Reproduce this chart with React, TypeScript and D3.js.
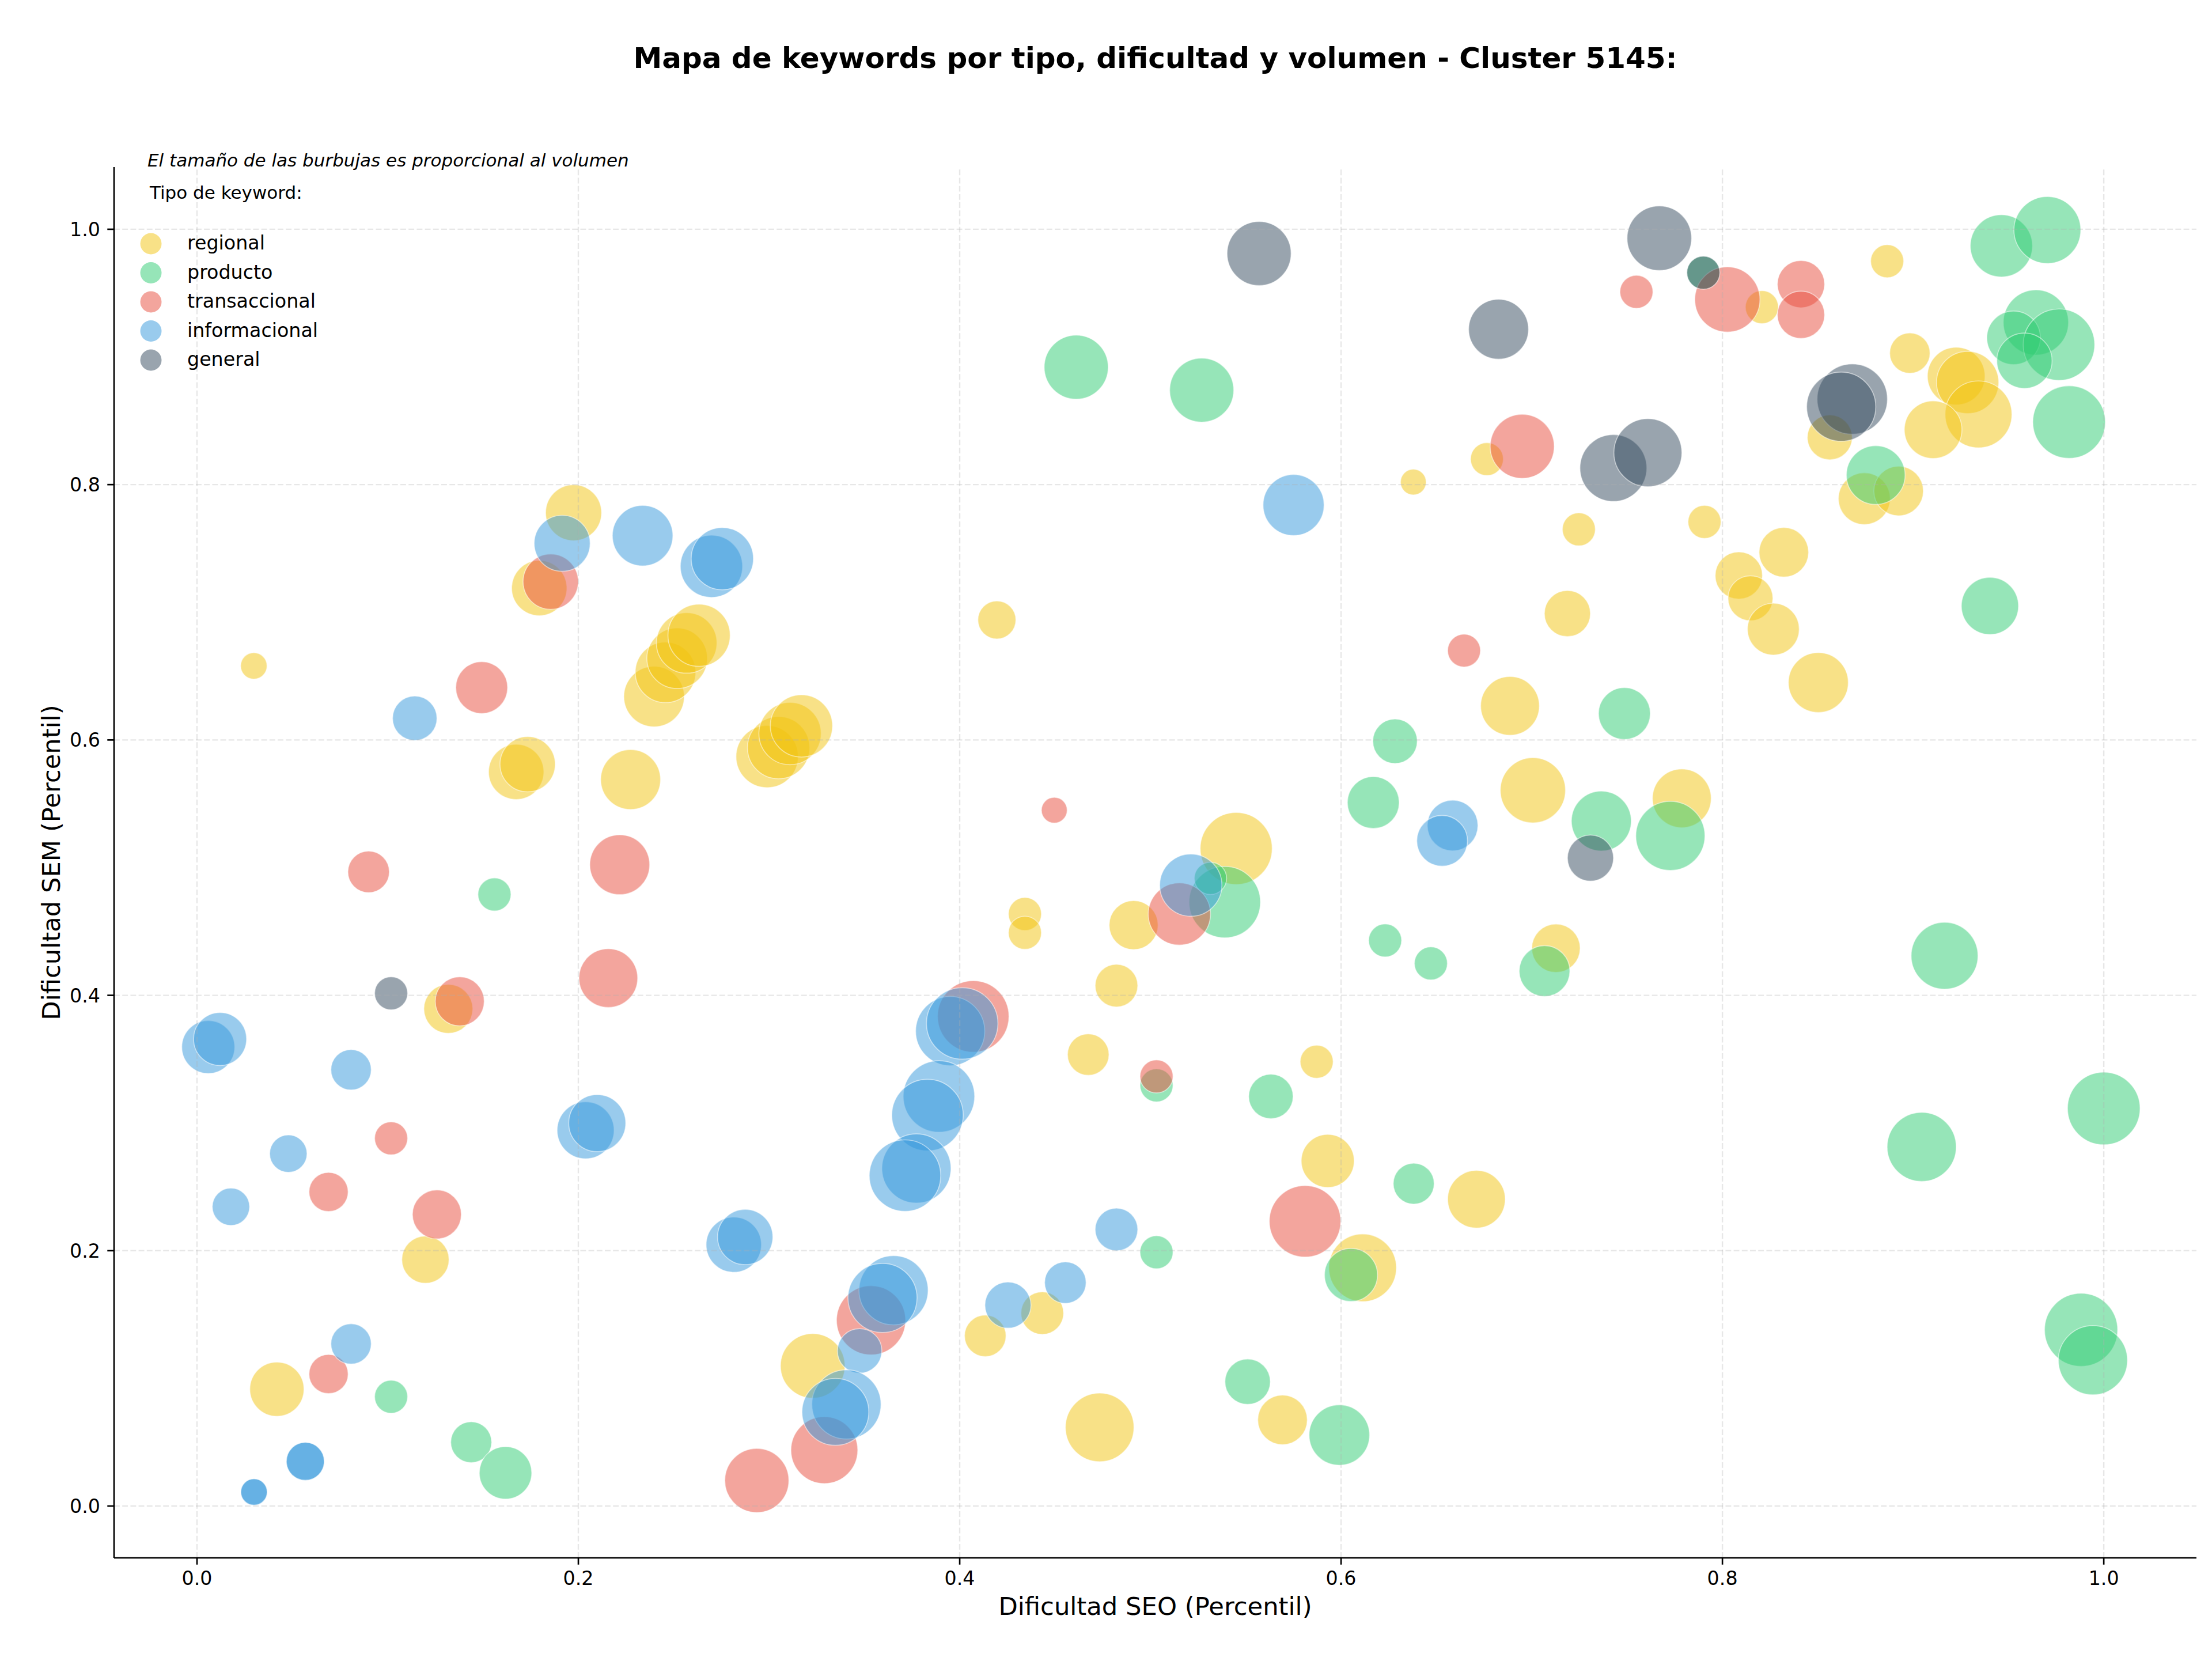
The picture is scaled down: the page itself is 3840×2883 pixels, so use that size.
import * as d3 from "d3";

const width = 3840;
const height = 2883;
const margin = { top: 290, right: 27, bottom: 179, left: 198 };
const fontFamily = "'DejaVu Sans', sans-serif";

const categories = ["regional", "producto", "transaccional", "informacional", "general"];
const categoryColors = ["#F1C40F", "#2ECC71", "#E74C3C", "#3498DB", "#34495E"];

// [dificultad SEO, dificultad SEM, volumen]
const regional: [number, number, number][] = [
  [0.1975, 0.778, 595], [0.1795, 0.719, 580], [0.2397, 0.634, 695], [0.2457, 0.653, 695],
  [0.2518, 0.664, 695], [0.2568, 0.676, 695], [0.2633, 0.682, 735], [0.0298, 0.658, 133],
  [0.1674, 0.575, 580], [0.1734, 0.581, 580], [0.2274, 0.569, 681], [0.299, 0.587, 735],
  [0.305, 0.594, 735], [0.311, 0.605, 735], [0.317, 0.611, 735], [0.4195, 0.694, 274],
  [0.6379, 0.802, 126], [0.6765, 0.82, 205], [0.545, 0.515, 984], [0.8207, 0.939, 207],
  [0.8864, 0.975, 207], [0.8983, 0.903, 309], [0.9226, 0.885, 630], [0.9286, 0.88, 735],
  [0.9343, 0.855, 848], [0.9105, 0.843, 630], [0.8563, 0.837, 383], [0.8744, 0.789, 510],
  [0.8924, 0.795, 466], [0.7247, 0.765, 207], [0.7906, 0.7708, 207], [0.8322, 0.747, 466],
  [0.8086, 0.7288, 424], [0.8147, 0.711, 383], [0.8267, 0.6868, 510], [0.8503, 0.645, 681],
  [0.7187, 0.699, 403], [0.6886, 0.6267, 655], [0.7006, 0.5606, 807], [0.7787, 0.5543, 655],
  [0.1318, 0.3894, 455], [0.1198, 0.193, 424], [0.0419, 0.0915, 557], [0.3229, 0.1098, 790],
  [0.4342, 0.4637, 207], [0.4342, 0.449, 207], [0.4912, 0.455, 455], [0.4822, 0.4076, 345],
  [0.4674, 0.3536, 327], [0.5872, 0.348, 207], [0.593, 0.2703, 533], [0.671, 0.2403, 630],
  [0.6113, 0.1866, 868], [0.4433, 0.1511, 345], [0.4134, 0.1333, 327], [0.4734, 0.0616, 892],
  [0.5693, 0.0675, 466], [0.7127, 0.4369, 445],
];

const producto: [number, number, number][] = [
  [0.4611, 0.892, 779], [0.5269, 0.874, 779], [0.6283, 0.599, 375], [0.6169, 0.551, 510],
  [0.79, 0.966, 207], [0.9463, 0.987, 735], [0.9704, 0.9994, 848], [0.9644, 0.927, 807],
  [0.9527, 0.915, 545], [0.9765, 0.9096, 969], [0.9584, 0.897, 580], [0.9818, 0.849, 1000],
  [0.8804, 0.8075, 655], [0.9403, 0.705, 620], [0.7486, 0.6207, 510], [0.7365, 0.5365, 681],
  [0.7727, 0.5249, 907], [0.156, 0.479, 207], [0.1018, 0.0856, 207], [0.1438, 0.05, 318],
  [0.1618, 0.026, 522], [0.539, 0.473, 969], [0.5315, 0.4916, 198], [0.5032, 0.3295, 207],
  [0.5632, 0.3208, 375], [0.6381, 0.2525, 318], [0.5032, 0.1988, 207], [0.6052, 0.181, 533],
  [0.551, 0.0974, 391], [0.5991, 0.0556, 695], [0.6231, 0.443, 207], [0.6471, 0.425, 207],
  [0.7067, 0.419, 488], [0.9165, 0.431, 848], [0.9045, 0.2813, 907], [1.0, 0.3114, 1000],
  [0.9881, 0.138, 1016], [0.9943, 0.1142, 907],
];

const transaccional: [number, number, number][] = [
  [0.1855, 0.724, 580], [0.1493, 0.641, 510], [0.6645, 0.67, 205], [0.4496, 0.545, 126],
  [0.7549, 0.951, 207], [0.8026, 0.945, 807], [0.8412, 0.957, 424], [0.8412, 0.933, 424],
  [0.695, 0.83, 779], [0.09, 0.4967, 327], [0.2217, 0.5023, 681], [0.2157, 0.4135, 655],
  [0.1378, 0.3953, 455], [0.1018, 0.288, 207], [0.069, 0.246, 291], [0.1258, 0.2284, 455],
  [0.069, 0.1034, 291], [0.2936, 0.02, 779], [0.4071, 0.3835, 969], [0.3535, 0.1455, 907],
  [0.329, 0.0438, 848], [0.5152, 0.4637, 735], [0.5032, 0.3365, 207], [0.5811, 0.223, 969],
];

const informacional: [number, number, number][] = [
  [0.1915, 0.754, 595], [0.2337, 0.76, 695], [0.2698, 0.736, 735], [0.2755, 0.742, 735],
  [0.1142, 0.617, 375], [0.5751, 0.784, 708], [0.6585, 0.533, 488], [0.653, 0.521, 488],
  [0.0059, 0.3595, 533], [0.0121, 0.3658, 533], [0.0808, 0.3417, 309], [0.0479, 0.276, 265],
  [0.0178, 0.2344, 265], [0.2038, 0.2943, 617], [0.2099, 0.2999, 617], [0.2815, 0.2047, 580],
  [0.2875, 0.2107, 580], [0.0808, 0.127, 309], [0.0568, 0.035, 274], [0.0568, 0.035, 274],
  [0.0299, 0.011, 133], [0.0299, 0.011, 133], [0.395, 0.372, 907], [0.4013, 0.378, 969],
  [0.3891, 0.3208, 969], [0.3831, 0.3062, 969], [0.3773, 0.2644, 907], [0.3713, 0.2588, 969],
  [0.3653, 0.169, 907], [0.3595, 0.163, 907], [0.3475, 0.1215, 375], [0.3406, 0.0796, 907],
  [0.3348, 0.0737, 848], [0.5212, 0.4863, 735], [0.4822, 0.2166, 345], [0.4554, 0.175, 327],
  [0.4253, 0.1574, 403],
];

const general: [number, number, number][] = [
  [0.557, 0.981, 779], [0.7669, 0.993, 790], [0.79, 0.966, 207], [0.6826, 0.9217, 681],
  [0.7428, 0.813, 848], [0.7609, 0.825, 877], [0.8681, 0.867, 938], [0.8623, 0.861, 907],
  [0.7308, 0.5075, 403], [0.1018, 0.4016, 207],
];

const seriesByCategory = [regional, producto, transaccional, informacional, general];
const tickValues = [0, 0.2, 0.4, 0.6, 0.8, 1.0];

const title = "Mapa de keywords por tipo, dificultad y volumen - Cluster 5145:";
const sizeNote = "El tamaño de las burbujas es proporcional al volumen";
const legendTitle = "Tipo de keyword:";

export default function App() {
  const x = d3.scaleLinear().domain([-0.0435, 1.0486]).range([margin.left, width - margin.right]);
  const y = d3.scaleLinear().domain([-0.0406, 1.0487]).range([height - margin.bottom, margin.top]);
  const r = d3.scaleSqrt().domain([0, 1000]).range([0, 63]);

  const x0 = margin.left;
  const x1 = width - margin.right;
  const y0 = height - margin.bottom;
  const y1 = margin.top;
  const axisMid = (x0 + x1) / 2;

  return (
    <svg
      width={width}
      height={height}
      style={{ position: "absolute", left: 0, top: 0, background: "#fff" }}
      fontFamily={fontFamily}
    >
      <rect width={width} height={height} fill="#fff" />

      <text x={axisMid} y={118} textAnchor="middle" fontSize={50} fontWeight="bold">
        {title}
      </text>

      {/* bubbles, one layer per keyword type */}
      {seriesByCategory.map((points, ci) => (
        <g key={categories[ci]}>
          {points.map((d, i) => (
            <circle
              key={i}
              cx={x(d[0])}
              cy={y(d[1])}
              r={r(d[2])}
              fill={categoryColors[ci]}
              fillOpacity={0.5}
              stroke="#fff"
              strokeOpacity={0.5}
              strokeWidth={1.7}
            />
          ))}
        </g>
      ))}

      {/* grid */}
      <g stroke="#b0b0b0" strokeOpacity={0.3} strokeWidth={2.4} strokeDasharray="9.9 4.3">
        {tickValues.map((t) => (
          <line key={`gx-${t}`} x1={x(t)} x2={x(t)} y1={y0} y2={y1} />
        ))}
        {tickValues.map((t) => (
          <line key={`gy-${t}`} x1={x0} x2={x1} y1={y(t)} y2={y(t)} />
        ))}
      </g>

      {/* axes */}
      <line x1={x0} x2={x1} y1={y0} y2={y0} stroke="#000" strokeWidth={2.67} />
      <line x1={x0} x2={x0} y1={y0} y2={y1} stroke="#000" strokeWidth={2.67} />
      {tickValues.map((t) => (
        <g key={`tx-${t}`}>
          <line x1={x(t)} x2={x(t)} y1={y0} y2={y0 + 11.7} stroke="#000" strokeWidth={2.67} />
          <text x={x(t)} y={y0 + 47} textAnchor="middle" fontSize={33.3}>
            {t.toFixed(1)}
          </text>
        </g>
      ))}
      {tickValues.map((t) => (
        <g key={`ty-${t}`}>
          <line x1={x0 - 11.7} x2={x0} y1={y(t)} y2={y(t)} stroke="#000" strokeWidth={2.67} />
          <text x={x0 - 24} y={y(t) + 12} textAnchor="end" fontSize={33.3}>
            {t.toFixed(1)}
          </text>
        </g>
      ))}
      <text x={axisMid} y={2803} textAnchor="middle" fontSize={43.3}>
        Dificultad SEO (Percentil)
      </text>
      <text
        transform={`translate(104, ${(y0 + y1) / 2}) rotate(-90)`}
        textAnchor="middle"
        fontSize={43.3}
      >
        Dificultad SEM (Percentil)
      </text>

      {/* note and legend */}
      <text x={256} y={289} fontSize={31} fontStyle="italic">
        {sizeNote}
      </text>
      <text x={260} y={345} fontSize={31}>
        {legendTitle}
      </text>
      {categories.map((c, i) => {
        const ly = 423 + i * 50.5;
        return (
          <g key={`lg-${c}`}>
            <circle cx={262} cy={ly} r={18.5} fill={categoryColors[i]} fillOpacity={0.5} />
            <text x={325} y={ly + 10} fontSize={33.3}>
              {c}
            </text>
          </g>
        );
      })}
    </svg>
  );
}
